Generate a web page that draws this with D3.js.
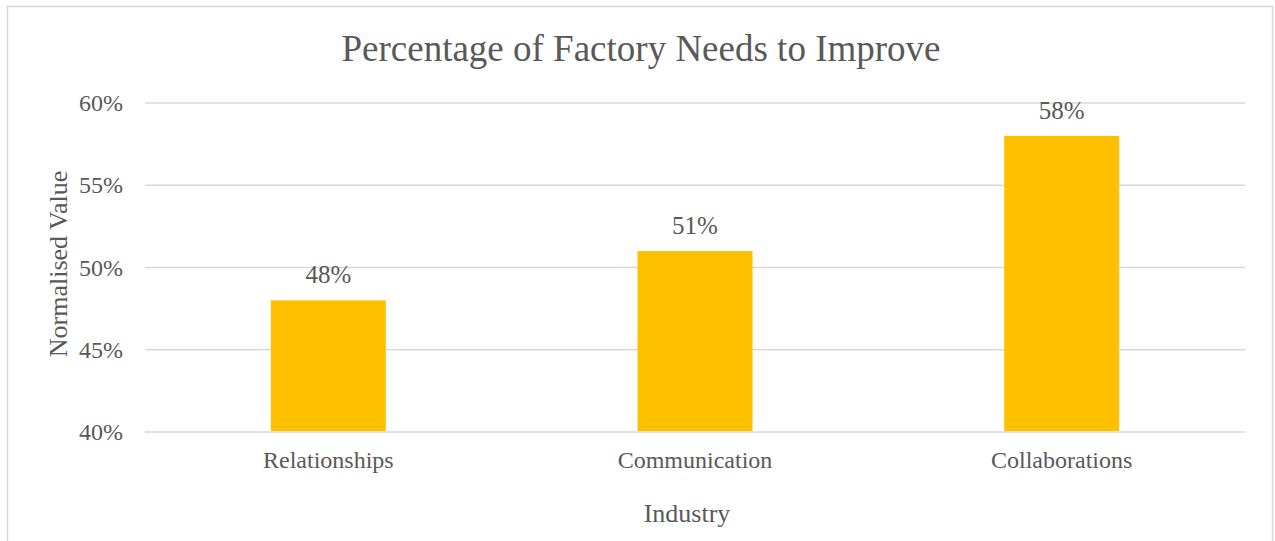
<!DOCTYPE html>
<html>
<head>
  <title>Percentage of Factory Needs to Improve</title>
  <script src="https://cdn.jsdelivr.net/npm/d3@7"></script>
  <style>
    body { margin: 0; background: #fff; }
    text { font-family: "Liberation Serif", "Times New Roman", serif; fill: #595959; }
  </style>
</head>
<body>
  <div id="chart"></div>
  <script>
    const categories = ["Relationships", "Communication", "Collaborations"]
    const values = [0.48, 0.51, 0.58]
    const yTicks = [0.40, 0.45, 0.50, 0.55, 0.60]

    const width = 1275
    const height = 541
    const plot = { left: 145, right: 1245, top: 103, bottom: 432 }

    const svg = d3.select("#chart")
      .append("svg")
      .attr("width", width)
      .attr("height", height)

    // outer chart border
    svg.append("rect")
      .attr("x", 7.5).attr("y", 6.5)
      .attr("width", 1265).attr("height", 560)
      .attr("fill", "none")
      .attr("stroke", "#d9d9d9")
      .attr("stroke-width", 1.5)

    const x = d3.scaleBand()
      .domain(categories)
      .range([plot.left, plot.right])
      .padding(0)

    const y = d3.scaleLinear()
      .domain([0.40, 0.60])
      .range([plot.bottom, plot.top])

    const barWidth = 115

    // gridlines
    svg.append("g")
      .selectAll("line")
      .data(yTicks)
      .enter()
      .append("line")
      .attr("x1", plot.left)
      .attr("x2", plot.right)
      .attr("y1", d => y(d))
      .attr("y2", d => y(d))
      .attr("stroke", "#d9d9d9")
      .attr("stroke-width", 1.5)

    // y tick labels
    svg.append("g")
      .selectAll("text")
      .data(yTicks)
      .enter()
      .append("text")
      .attr("x", 123)
      .attr("y", d => y(d) + 8)
      .attr("text-anchor", "end")
      .style("font-size", "24px")
      .text(d => d3.format(".0%")(d))

    // bars
    svg.append("g")
      .selectAll("rect")
      .data(values)
      .enter()
      .append("rect")
      .attr("x", (d, i) => x(categories[i]) + x.bandwidth() / 2 - barWidth / 2)
      .attr("y", d => y(d))
      .attr("width", barWidth)
      .attr("height", d => y(0.40) - y(d) - 1)
      .attr("fill", "#ffc000")

    // value labels
    svg.append("g")
      .selectAll("text")
      .data(values)
      .enter()
      .append("text")
      .attr("x", (d, i) => x(categories[i]) + x.bandwidth() / 2)
      .attr("y", d => y(d) - 17)
      .attr("text-anchor", "middle")
      .style("font-size", "25px")
      .text(d => d3.format(".0%")(d))

    // category labels
    svg.append("g")
      .selectAll("text")
      .data(categories)
      .enter()
      .append("text")
      .attr("x", d => x(d) + x.bandwidth() / 2)
      .attr("y", 468)
      .attr("text-anchor", "middle")
      .style("font-size", "24px")
      .text(d => d)

    // title
    svg.append("text")
      .attr("x", 641)
      .attr("y", 61)
      .attr("text-anchor", "middle")
      .style("font-size", "37px")
      .text("Percentage of Factory Needs to Improve")

    // axis titles
    svg.append("text")
      .attr("x", 687)
      .attr("y", 522)
      .attr("text-anchor", "middle")
      .style("font-size", "26px")
      .text("Industry")

    svg.append("text")
      .attr("transform", "translate(67,264) rotate(-90)")
      .attr("text-anchor", "middle")
      .style("font-size", "26px")
      .text("Normalised Value")
  </script>
</body>
</html>
